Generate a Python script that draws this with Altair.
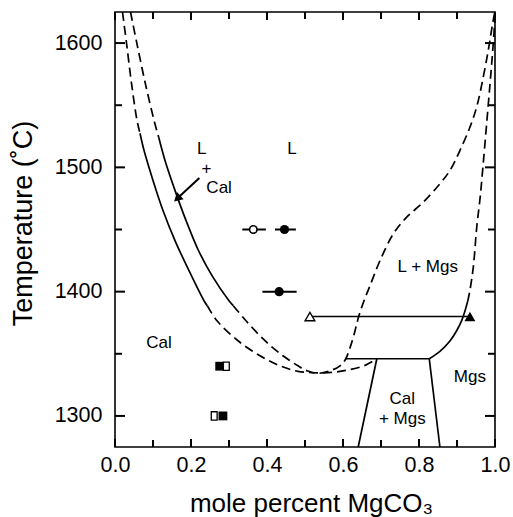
import altair as alt
import pandas as pd

FONT = "Liberation Sans"
W, H = 380, 435
X_DOM = [0.0, 1.0]
Y_DOM = [1275, 1625]

# ---------------- data ----------------
# Cal solidus (outer left curve): dashed top, solid middle, dashed bottom
sol_top_x = [0.0197, 0.0303, 0.0434, 0.0579, 0.0658]
sol_top_y = [1625, 1600, 1567.7, 1537.9, 1527.4]
sol_mid_x = [0.0658, 0.0763, 0.1000, 0.1263, 0.1579, 0.1947, 0.2342, 0.2428]
sol_mid_y = [1527.4, 1513.7, 1489.5, 1465.3, 1441.1, 1416.9, 1392.7, 1388.7]
sol_low_x = [0.2428, 0.2684, 0.3237, 0.3816, 0.4342, 0.4816, 0.5342, 0.5789, 0.6184, 0.6579, 0.6890]
sol_low_y = [1388.7, 1376.6, 1360.5, 1348.4, 1340.3, 1335.9, 1334.7, 1335.2, 1337.3, 1340.7, 1346]

# Liquidus (inner curve): dashed top, solid middle, dashed to the right
liq_top_x = [0.0408, 0.0574, 0.0797, 0.1047, 0.1150]
liq_top_y = [1625, 1600, 1567.7, 1535.5, 1524.2]
liq_mid_x = [0.1150, 0.1316, 0.1579, 0.1868, 0.2197, 0.2553, 0.3000, 0.3113]
liq_mid_y = [1524.2, 1505.6, 1481.5, 1457.3, 1433.1, 1412.9, 1392.7, 1388.7]
liq_low_x = [0.3113, 0.3447, 0.3947, 0.4421, 0.4816, 0.5053, 0.5342, 0.5658, 0.5921,
             0.6066, 0.6184, 0.6303, 0.6408, 0.6553, 0.6711, 0.6974, 0.7324, 0.7676,
             0.8113, 0.8553, 0.8816, 0.9079, 0.9342, 0.9518, 0.9692, 0.9824, 0.9939, 0.9995]
liq_low_y = [1388.7, 1376.6, 1360.5, 1348.4, 1340.3, 1336.3, 1334.3, 1336.3, 1340.3,
             1345.6, 1354.8, 1366.9, 1379.4, 1392.7, 1404.8, 1425.0, 1446.5, 1459.9,
             1472.0, 1486.9, 1497.6, 1513.7, 1532.5, 1548.6, 1572.8, 1594.4, 1615.9, 1625]

# Mgs solvus: solid lower part, dashed upper part
mgs_solid_x = [0.827, 0.855, 0.882, 0.899, 0.912, 0.921, 0.928]
mgs_solid_y = [1346, 1352, 1360.5, 1368.5, 1376.5, 1384.5, 1392]
mgs_dash_x = [0.928, 0.934, 0.943, 0.952, 0.961, 0.969, 0.978, 0.987, 0.994, 1.000]
mgs_dash_y = [1392, 1401, 1420, 1452, 1476, 1503, 1535, 1567.5, 1594, 1620]

# straight boundaries
eut_x = [0.607, 0.827]
eut_y = [1346, 1346]
calmgs_left_x = [0.689, 0.640]
calmgs_left_y = [1346, 1275]
calmgs_right_x = [0.827, 0.855]
calmgs_right_y = [1346, 1275]
tie_x = [0.513, 0.934]
tie_y = [1380, 1380]

# experiments
fcirc_x = [0.446, 0.432]
fcirc_y = [1450, 1400]
fcirc_lo = [0.421, 0.388]
fcirc_hi = [0.476, 0.478]
ocirc_x = [0.364]
ocirc_y = [1450]
ocirc_lo = [0.335]
ocirc_hi = [0.397]
otri_x = [0.513]
otri_y = [1380]
ftri_x = [0.934]
ftri_y = [1380]
fsq_x = [0.2755, 0.284]
fsq_y = [1340, 1300]
osq_x = [0.293, 0.261]
osq_y = [1340, 1300]

# arrow (L + Cal)
arrow_x = [0.222]
arrow_y = [1491.4]
arrow_x2 = [0.1637]
arrow_y2 = [1474.9]

# labels
label_text = ["L", "+", "Cal", "L", "Cal", "L + Mgs", "Mgs", "Cal", "+ Mgs"]
label_x = [0.228, 0.241, 0.274, 0.466, 0.116, 0.823, 0.934, 0.756, 0.756]
label_y = [1515, 1498.5, 1483.5, 1515, 1358.7, 1420, 1331, 1314, 1297.5]

# axis ticks
x_labels = [0.0, 0.2, 0.4, 0.6, 0.8, 1.0]
x_minor = [0.1, 0.3, 0.5, 0.7, 0.9]
y_labels = [1300, 1400, 1500, 1600]
y_minor = [1350, 1450, 1550]

# ---------------- tables ----------------
def seg(name, xs, ys, dashed):
    return pd.DataFrame({"x": xs, "y": ys, "seg": name,
                         "i": list(range(len(xs))), "dashed": dashed})

lines = pd.concat([
    seg("sol_top", sol_top_x, sol_top_y, 1),
    seg("sol_mid", sol_mid_x, sol_mid_y, 0),
    seg("sol_low", sol_low_x, sol_low_y, 1),
    seg("liq_top", liq_top_x, liq_top_y, 1),
    seg("liq_mid", liq_mid_x, liq_mid_y, 0),
    seg("liq_low", liq_low_x, liq_low_y, 1),
    seg("mgs_solid", mgs_solid_x, mgs_solid_y, 0),
    seg("mgs_dash", mgs_dash_x, mgs_dash_y, 1),
    seg("eut", eut_x, eut_y, 0),
    seg("cm_l", calmgs_left_x, calmgs_left_y, 0),
    seg("cm_r", calmgs_right_x, calmgs_right_y, 0),
    seg("tie", tie_x, tie_y, 0),
], ignore_index=True)

# inward ticks on all four sides as two-point segments; tick length is given
# in pixels and converted into data units through the scale extents
PX_X = (X_DOM[1] - X_DOM[0]) / W
PX_Y = (Y_DOM[1] - Y_DOM[0]) / H
tick_rows = []
def add_xticks(vals, length):
    d = length * PX_Y
    for v in vals:
        for side, y0, y1 in (("b", Y_DOM[0], Y_DOM[0] + d), ("t", Y_DOM[1], Y_DOM[1] - d)):
            tid = f"x{side}{v}"
            tick_rows.append({"x": v, "y": y0, "tid": tid, "i": 0})
            tick_rows.append({"x": v, "y": y1, "tid": tid, "i": 1})

def add_yticks(vals, length):
    d = length * PX_X
    for v in vals:
        for side, x0, x1 in (("l", X_DOM[0], X_DOM[0] + d), ("r", X_DOM[1], X_DOM[1] - d)):
            tid = f"y{side}{v}"
            tick_rows.append({"x": x0, "y": v, "tid": tid, "i": 0})
            tick_rows.append({"x": x1, "y": v, "tid": tid, "i": 1})

add_xticks(x_labels, 8)
add_xticks(x_minor, 7)
add_yticks(y_labels, 10)
add_yticks(y_minor, 7)
ticks_df = pd.DataFrame(tick_rows)

xscale = alt.Scale(domain=X_DOM, nice=False, zero=False)
yscale = alt.Scale(domain=Y_DOM, nice=False, zero=False)

xaxis = alt.Axis(title="mole percent MgCO₃", values=x_labels, format=".1f",
                 grid=False, ticks=False, domain=False,
                 labelPadding=7, labelFontSize=21.5, labelFont=FONT, labelColor="black",
                 labelFlush=False, titleFont=FONT, titleFontSize=26,
                 titleFontWeight="normal", titleColor="black",
                 titleBaseline="alphabetic", titleX=196, titleY=64)
yaxis = alt.Axis(title="Temperature (˚C)", values=y_labels, format="d",
                 grid=False, ticks=False, domain=False,
                 labelPadding=13, labelFontSize=21.5, labelFont=FONT, labelColor="black",
                 labelFlush=False, titleFont=FONT, titleFontSize=27,
                 titleFontWeight="normal", titleColor="black",
                 titleBaseline="middle", titleX=-92, titleY=211)

X = alt.X("x:Q", scale=xscale, axis=xaxis)
Y = alt.Y("y:Q", scale=yscale, axis=yaxis)

base_lines = alt.Chart(lines)
solid = base_lines.transform_filter("datum.dashed == 0").mark_line(
    color="black", strokeWidth=1.7, interpolate="catmull-rom"
).encode(x=X, y=Y, detail="seg:N", order="i:Q")
dashed = base_lines.transform_filter("datum.dashed == 1").mark_line(
    color="black", strokeWidth=1.7, interpolate="catmull-rom", strokeDash=[9, 5]
).encode(x=X, y=Y, detail="seg:N", order="i:Q")

tick_layer = alt.Chart(ticks_df).mark_line(color="#000000", strokeWidth=2).encode(
    x=X, y=Y, detail="tid:N", order="i:Q")

err_df = pd.DataFrame({"y": fcirc_y + ocirc_y, "x": fcirc_lo + ocirc_lo,
                       "x2": fcirc_hi + ocirc_hi})
errbars = alt.Chart(err_df).mark_rule(color="black", strokeWidth=2).encode(
    x=X, x2="x2:Q", y=Y)

fcirc = alt.Chart(pd.DataFrame({"x": fcirc_x, "y": fcirc_y})).mark_point(
    shape="circle", filled=True, color="black", size=85, opacity=1).encode(x=X, y=Y)
ocirc = alt.Chart(pd.DataFrame({"x": ocirc_x, "y": ocirc_y})).mark_point(
    shape="circle", filled=True, fill="white", stroke="black", strokeWidth=1.6,
    size=56, opacity=1).encode(x=X, y=Y)
otri = alt.Chart(pd.DataFrame({"x": otri_x, "y": otri_y})).mark_point(
    shape="triangle-up", filled=True, fill="white", stroke="black", strokeWidth=1.4,
    size=95, opacity=1).encode(x=X, y=Y)
ftri = alt.Chart(pd.DataFrame({"x": ftri_x, "y": ftri_y})).mark_point(
    shape="triangle-up", filled=True, color="black", size=120, opacity=1).encode(x=X, y=Y)
fsq = alt.Chart(pd.DataFrame({"x": fsq_x, "y": fsq_y})).mark_point(
    shape="square", filled=True, color="black", size=78, opacity=1).encode(x=X, y=Y)
osq = alt.Chart(pd.DataFrame({"x": osq_x, "y": osq_y})).mark_point(
    shape="M-0.7,-1H0.7V1H-0.7Z", filled=True, fill="white", stroke="black",
    strokeWidth=1.3, size=70, opacity=1).encode(x=X, y=Y)

arrow_df = pd.DataFrame({"x": arrow_x, "y": arrow_y, "x2": arrow_x2, "y2": arrow_y2})
arrow_line = alt.Chart(arrow_df).mark_rule(color="black", strokeWidth=2).encode(
    x=X, y=Y, x2="x2:Q", y2="y2:Q")
arrow_head = alt.Chart(pd.DataFrame({"x": arrow_x2, "y": arrow_y2})).mark_point(
    shape="triangle-up", filled=True, color="black", size=95, angle=227.4,
    opacity=1).encode(x=X, y=Y)

labels = alt.Chart(pd.DataFrame({"x": label_x, "y": label_y, "t": label_text})).mark_text(
    font=FONT, fontSize=17, color="black", align="center", baseline="middle"
).encode(x=X, y=Y, text="t:N")

chart = alt.layer(
    solid, dashed, errbars, fcirc, ocirc, otri, ftri, fsq, osq,
    arrow_line, arrow_head, labels, tick_layer
).properties(
    width=W, height=H,
    autosize=alt.AutoSizeParams(type="none"),
    padding={"left": 115, "top": 12, "right": 18, "bottom": 70},
    background="white",
).configure_view(stroke="black", strokeWidth=1.6)

chart.save("out.html", embed_options={"renderer": "svg", "actions": False})
